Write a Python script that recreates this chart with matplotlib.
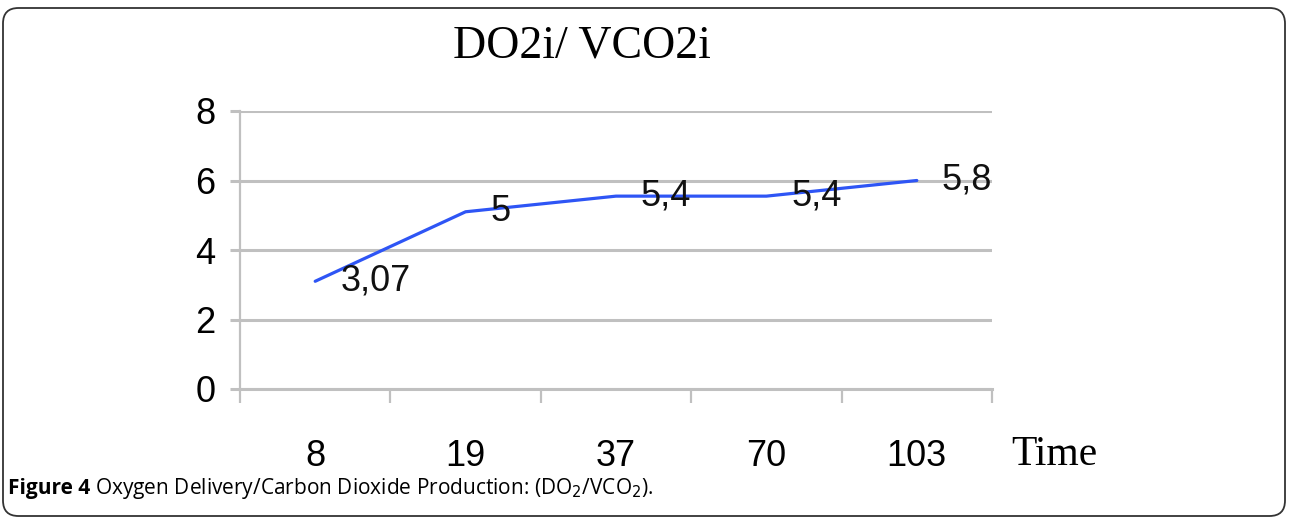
import matplotlib
matplotlib.use("Agg")
import matplotlib.pyplot as plt
from matplotlib.patches import FancyBboxPatch
import numpy as np

categories = ["8", "19", "37", "70", "103"]
values = [3.1, 5.1, 5.55, 5.55, 6.0]
value_labels = ["3,07", "5", "5,4", "5,4", "5,8"]
y_ticks = [0, 2, 4, 6, 8]

W, H, DPI = 1290, 519, 100
fig = plt.figure(figsize=(W / DPI, H / DPI), dpi=DPI)

narrow = dict(family=["Liberation Sans", "DejaVu Sans"], fontsize=26)
serif = ["Liberation Serif", "DejaVu Serif"]

ax = fig.add_axes([240 / W, 1 - 389 / H, (992 - 240) / W, (389 - 111) / H])
x = np.arange(len(categories))
ax.plot(x, values, color="#2e55f5", lw=2.3, solid_capstyle="round", zorder=3)

for xi, v, lab in zip(x, values, value_labels):
    ax.annotate(lab, (xi, v), xytext=(18, 0), textcoords="offset points",
                ha="left", va="center", color="#111111", **narrow)

ax.set_xlim(-0.5, len(categories) - 0.5)
ax.set_ylim(0, 8)
ax.set_yticks(y_ticks)
ax.set_yticklabels([str(t) for t in y_ticks], **narrow)
ax.yaxis.grid(True, color="#c0c0c0", lw=2.2)
ax.set_axisbelow(True)

ax.set_xticks(np.arange(len(categories) + 1) - 0.5)
ax.set_xticklabels([])
ax.set_xticks(x, minor=True)
ax.set_xticklabels(categories, minor=True, **narrow)
ax.tick_params(axis="x", which="major", length=10, width=1.6, color="#c0c0c0", direction="out")
ax.tick_params(axis="x", which="minor", length=0, pad=36)
ax.tick_params(axis="y", length=7.5, width=2.2, color="#c0c0c0", pad=10)

for s in ["top", "right"]:
    ax.spines[s].set_visible(False)
ax.spines["left"].set_color("#c0c0c0")
ax.spines["left"].set_linewidth(1.6)
ax.spines["bottom"].set_color("#c0c0c0")
ax.spines["bottom"].set_linewidth(2.2)
ax.spines["left"].set_bounds(-0.0, 8)

fig.text(582 / W, 1 - 46 / H, "DO2i/ VCO2i", ha="center", va="center",
         fontsize=33, family=serif)
fig.text(1011 / W, 1 - 455 / H, "Time", ha="left", va="center",
         fontsize=30, family=serif)

# caption
cap_y = 1 - 494 / H
capfont = ["Open Sans", "DejaVu Sans"]
t1 = fig.text(8 / W, cap_y, "Figure 4", ha="left", va="baseline",
              fontsize=15, family=capfont, weight="bold")
fig.canvas.draw()
bb = t1.get_window_extent()
fig.text((bb.x1 + 5) / W, cap_y,
         r"Oxygen Delivery/Carbon Dioxide Production: (DO$_2$/VCO$_2$).",
         ha="left", va="baseline", fontsize=15, family=capfont)

border = FancyBboxPatch((3 / W, 3 / H), (1285 - 3) / W, (511 - 3) / H,
                        boxstyle="round,pad=0,rounding_size=0.012",
                        transform=fig.transFigure, fill=False,
                        edgecolor="#333333", lw=1.3, mutation_aspect=W / H)
fig.patches.append(border)

fig.savefig("out.png", dpi=DPI)
